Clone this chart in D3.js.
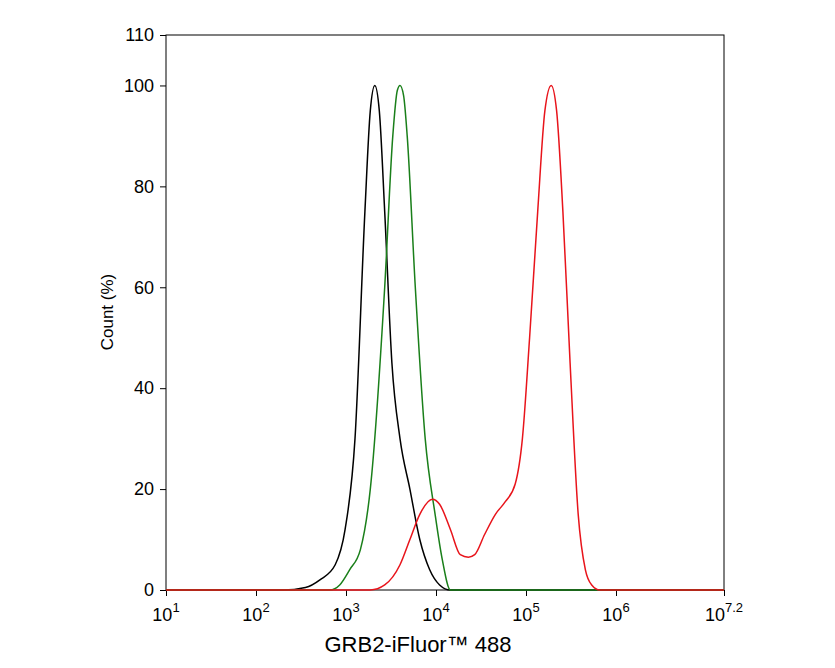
<!DOCTYPE html>
<html><head><meta charset="utf-8">
<script src="https://cdn.jsdelivr.net/npm/d3@7"></script>
<style>body{margin:0;background:#fff}text{font-family:"Liberation Sans",Arial,sans-serif}</style>
</head><body><div id="chart"></div>
<script>
// [log10 intensity, count %]
let blackCurve = [[1,0],[2.3,0],[2.55,0.5],[2.71,2],[2.88,5],[2.99,12],[3.1,30],[3.21,75],[3.27,95],[3.32,100],[3.37,95],[3.43,75],[3.51,45],[3.6,30],[3.71,20],[3.82,10],[3.93,4],[4.04,1],[4.16,0],[7.2,0]]
let greenCurve = [[1,0],[2.82,0],[2.93,1],[3.04,4],[3.16,8],[3.27,20],[3.43,60],[3.52,90],[3.57,99],[3.6,100],[3.64,98],[3.68,90],[3.77,60],[3.88,30],[3.99,15],[4.07,6],[4.16,0],[7.2,0]]
let redCurve = [[1,0],[3.27,0],[3.43,1],[3.6,5],[3.71,10],[3.82,15],[3.96,18],[4.04,17],[4.16,12],[4.27,7],[4.36,6.5],[4.43,7],[4.54,11],[4.66,15],[4.77,17.5],[4.88,21],[4.96,30],[5.04,50],[5.13,75],[5.21,95],[5.28,100],[5.34,95],[5.41,75],[5.49,45],[5.58,15],[5.66,4],[5.73,1],[5.82,0],[7.2,0]]
let xTicks = [1,2,3,4,5,6,7.2]
let yTicks = [0,20,40,60,80,100,110]

let svg = d3.select("#chart").append("svg").attr("width",835).attr("height",668)
let x = d3.scaleLinear().domain([1,7.2]).range([166,724])
let y = d3.scaleLinear().domain([0,110]).range([590,35])

svg.append("rect").attr("x",166).attr("y",35).attr("width",558).attr("height",555)
	.attr("fill","none").attr("stroke","#000").attr("stroke-width",1)

let yAxis = svg.append("g").attr("transform","translate(166,0)")
	.call(d3.axisLeft(y).tickValues(yTicks).tickSize(6).tickFormat(d3.format("d")))
yAxis.selectAll("text").attr("font-size",18).attr("dx",-3).attr("fill","#000")
yAxis.select(".domain").remove()

let xAxis = svg.append("g").attr("transform","translate(0,590)")
	.call(d3.axisBottom(x).tickValues(xTicks).tickSize(6).tickFormat(""))
xAxis.select(".domain").remove()
xTicks.forEach(t => {
	let tx = svg.append("text").attr("x",x(t)).attr("y",621).attr("font-size",18).attr("text-anchor","middle")
	tx.append("tspan").text("10")
	tx.append("tspan").attr("dy",-9).attr("font-size",13).text(t === 7.2 ? "7.2" : t)
})

let line = d3.line().x(d => x(d[0])).y(d => y(d[1])).curve(d3.curveMonotoneX)
;[[blackCurve,"#000"],[greenCurve,"#1a7f1a"],[redCurve,"#e8141b"]].forEach(([c,col]) => {
	svg.append("path").datum(c).attr("d",line).attr("fill","none").attr("stroke",col).attr("stroke-width",1.5)
})

svg.append("text").attr("transform","translate(113,312) rotate(-90)").attr("text-anchor","middle")
	.attr("font-size",17).text("Count  (%)")
svg.append("text").attr("x",418).attr("y",652).attr("text-anchor","middle").attr("font-size",22).text("GRB2-iFluor™ 488")
</script></body></html>
